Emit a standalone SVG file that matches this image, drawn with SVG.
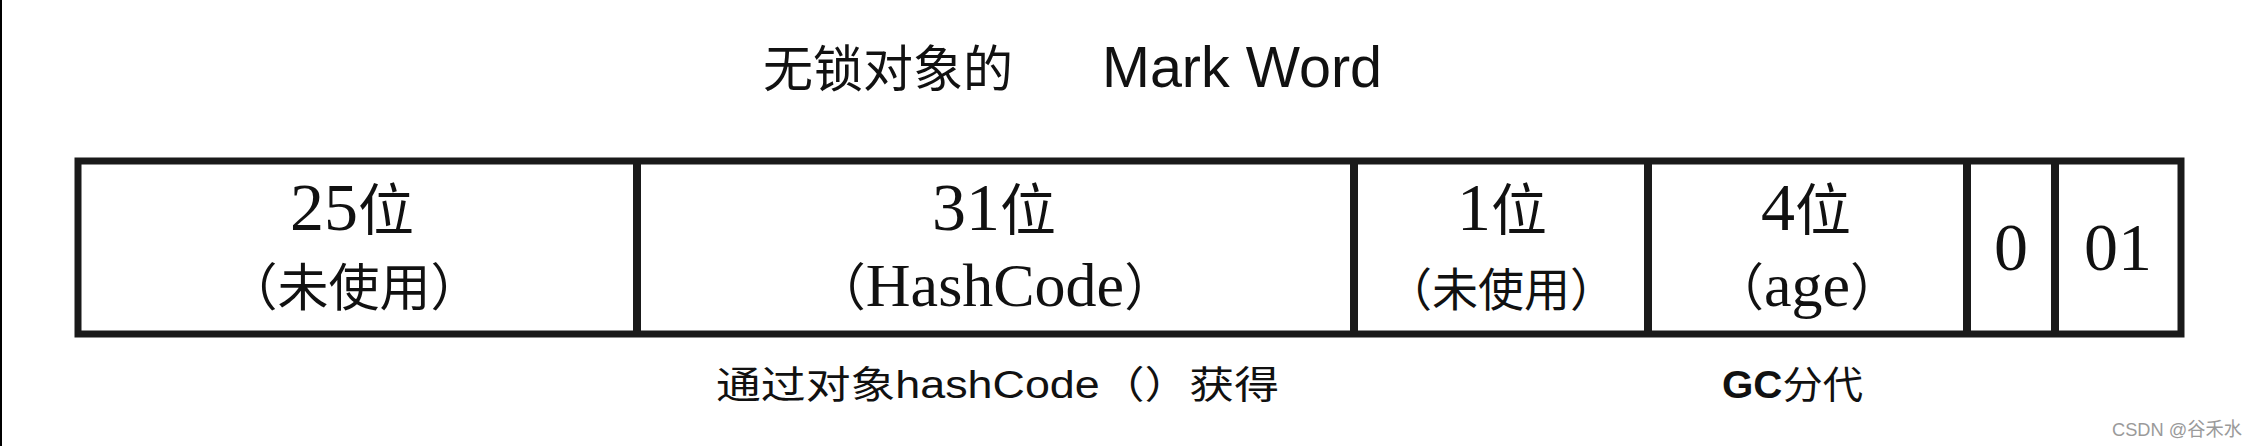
<svg xmlns="http://www.w3.org/2000/svg" width="2258" height="446" viewBox="0 0 2258 446">
  <style>
    .cell { fill: #ffffff; stroke: #1a1a1a; stroke-width: 7; }
    .div { stroke: #1a1a1a; stroke-width: 8; }
    .t1 { font-family: "Liberation Serif", "Noto Sans CJK SC", serif; font-size: 68px; fill: #111; text-anchor: middle; }
    .cj1 { font-family: "Noto Sans CJK SC", sans-serif; font-size: 56px; }
    .t2 { font-family: "Liberation Serif", "Noto Sans CJK SC", serif; font-size: 62px; fill: #111; text-anchor: middle; }
    .cj2 { font-family: "Noto Sans CJK SC", sans-serif; font-size: 51px; }
    .t3 { font-family: "Noto Sans CJK SC", sans-serif; font-size: 46px; fill: #111; text-anchor: middle; }
    .title { font-family: "Noto Sans CJK SC", sans-serif; font-size: 50px; fill: #111; }
    .note { font-family: "Liberation Sans", "Noto Sans CJK SC", sans-serif; font-size: 38px; fill: #111; }
    .wm { font-family: "Liberation Sans", "Noto Sans CJK SC", sans-serif; font-size: 19px; fill: #9a9a9a; }
  </style>
  <rect x="0" y="0" width="2258" height="446" fill="#ffffff"/>
  <rect x="0" y="0" width="2" height="446" fill="#000000"/>

  <g id="title">
    <text class="title" x="763" y="87">无锁对象的</text>
    <text class="title" x="1102" y="87" style="font-family:'Liberation Sans',sans-serif;font-size:58px" textLength="280" lengthAdjust="spacingAndGlyphs">Mark Word</text>
  </g>

  <g id="table">
    <rect class="cell" x="78" y="161" width="2103" height="173"/>
  </g>

  <g id="connectors">
    <line class="div" x1="637" y1="161" x2="637" y2="334"/>
    <line class="div" x1="1354" y1="161" x2="1354" y2="334"/>
    <line class="div" x1="1648" y1="161" x2="1648" y2="334"/>
    <line class="div" x1="1967" y1="161" x2="1967" y2="334"/>
    <line class="div" x1="2055" y1="161" x2="2055" y2="334"/>
  </g>

  <g id="cell-unused25">
    <text class="t1" x="352" y="230">25<tspan class="cj1">位</tspan></text>
    <text class="t2" x="354" y="306"><tspan class="cj2">（未使用）</tspan></text>
  </g>
  <g id="cell-hashcode">
    <text class="t1" x="994" y="230">31<tspan class="cj1">位</tspan></text>
    <text class="t2" x="995" y="306"><tspan class="cj2">（</tspan>HashCode<tspan class="cj2">）</tspan></text>
  </g>
  <g id="cell-unused1">
    <text class="t1" x="1502" y="230">1<tspan class="cj1">位</tspan></text>
    <text class="t3" x="1501" y="306">（未使用）</text>
  </g>
  <g id="cell-age">
    <text class="t1" x="1806" y="230">4<tspan class="cj1">位</tspan></text>
    <text class="t2" x="1807" y="306"><tspan class="cj2">（</tspan>age<tspan class="cj2">）</tspan></text>
  </g>
  <g id="cell-biased">
    <text class="t1" x="2011" y="270">0</text>
  </g>
  <g id="cell-lock">
    <text class="t1" x="2118" y="270">01</text>
  </g>

  <g id="note-hash">
    <text class="note" x="716" y="398" textLength="563" lengthAdjust="spacingAndGlyphs">通过对象hashCode（）获得</text>
  </g>
  <g id="note-gc">
    <text class="note" x="1722" y="398" textLength="141" lengthAdjust="spacingAndGlyphs"><tspan font-weight="bold">GC</tspan>分代</text>
  </g>
  <g id="watermark">
    <text class="wm" x="2112" y="436" textLength="130" lengthAdjust="spacingAndGlyphs">CSDN @谷禾水</text>
  </g>
</svg>
